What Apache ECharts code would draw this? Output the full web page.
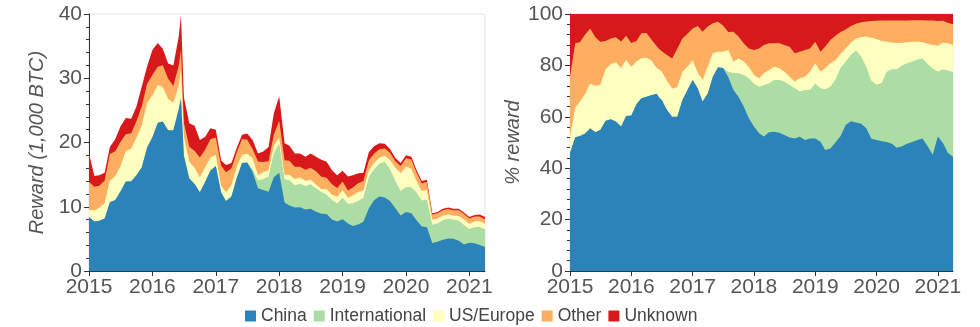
<!DOCTYPE html>
<html>
<head>
<meta charset="utf-8">
<script src="https://cdn.jsdelivr.net/npm/echarts@6/dist/echarts.min.js"></script>
<style>
  html, body { margin: 0; padding: 0; background: #fff; }
  #chart { width: 980px; height: 327px; }
</style>
</head>
<body>
<div id="chart"></div>
<script>
// Observation dates (monthly, plus the mid-June 2016 spike)
const dates = [
  '2015-01-01','2015-02-01','2015-03-01','2015-04-01','2015-05-01','2015-06-01','2015-07-01','2015-08-01','2015-09-01','2015-10-01','2015-11-01','2015-12-01',
  '2016-01-01','2016-02-01','2016-03-01','2016-04-01','2016-05-01','2016-06-01','2016-06-14','2016-07-01','2016-08-01','2016-09-01','2016-10-01','2016-11-01','2016-12-01',
  '2017-01-01','2017-02-01','2017-03-01','2017-04-01','2017-05-01','2017-06-01','2017-07-01','2017-08-01','2017-09-01','2017-10-01','2017-11-01','2017-12-01',
  '2018-01-01','2018-02-01','2018-03-01','2018-04-01','2018-05-01','2018-06-01','2018-07-01','2018-08-01','2018-09-01','2018-10-01','2018-11-01','2018-12-01',
  '2019-01-01','2019-02-01','2019-03-01','2019-04-01','2019-05-01','2019-06-01','2019-07-01','2019-08-01','2019-09-01','2019-10-01','2019-11-01','2019-12-01',
  '2020-01-01','2020-02-01','2020-03-01','2020-04-01','2020-05-01','2020-06-01','2020-07-01','2020-08-01','2020-09-01','2020-10-01','2020-11-01','2020-12-01',
  '2021-01-01','2021-02-01','2021-03-01','2021-04-01'
];

// Total mining reward, thousands of BTC
const totalReward = [
  18.3,14.8,14.9,15.3,19.3,20.5,22.5,23.8,23.7,25.6,28.7,31.8,
  34.4,35.5,34.6,32.3,32.0,36.5,39.8,27.0,23.0,22.6,20.4,20.9,22.2,
  22.0,17.2,16.5,16.8,19.1,21.2,21.4,20.4,18.3,18.6,19.3,24.5,
  27.2,19.9,19.5,18.3,18.3,17.8,18.3,17.8,17.3,17.0,15.7,14.9,
  15.6,14.7,14.9,15.2,15.3,18.5,19.4,19.9,19.8,19.0,17.6,16.8,
  18.0,17.8,15.8,14.0,14.2,9.0,9.2,9.7,9.9,9.7,9.7,9.1,
  8.4,8.7,8.8,8.4
];

// Share of the reward by miner location, percent
const chinaShare = [
  46,52,52.5,53.5,55.5,54,55,58.5,59,58.2,56.2,60.3,
  60.5,65,67.2,67.8,68.5,69,67.6,66.5,62.6,60,60,66.5,70.4,
  74.3,71,66,69.1,75.6,79.3,79,75.5,70.4,67.8,64,59.5,
  56.2,53.6,52.3,54,54.2,53.8,52.9,51.9,51.6,52.2,51,51.6,
  51.6,50.3,47.1,47.7,50,52.5,56.8,58.3,57.8,57.3,55.5,51.5,
  51,50.5,50.2,49.5,48,48.5,49.5,50.2,51,51.6,48.5,45.2,
  52.3,49.7,46,44.5
];
const internationalShare = [
  0,0,0,0,0,0,0,0,0,0,0,0,
  0,0,0,0,0,0,0,0,0,0,0,0,0,
  0,0,0,0,0,0,0,2,6.6,9.1,12.3,15.5,
  16.8,18.1,20.1,19,20.1,20.5,20.8,20.5,19.5,17.6,19.4,18.8,
  21.4,20.8,23.6,24,24.5,26.5,24.7,25.7,28,26.2,24,22.5,
  21.6,22.7,27.3,29,30.5,31.5,31.3,31.3,31.3,31.1,32,33.6,
  25.3,28.8,32,32.9
];
const usEuropeShare = [
  6,11.5,13.5,15.5,17.5,18,17.5,20,21.5,23,22.8,21.9,
  19,16.5,15.6,15.2,13.3,10,10.9,11,11.4,11,11.5,11,9.1,
  7.7,6,8.3,10.4,9.1,6,6.3,8.5,4.5,5.8,5.2,4.5,
  3.3,3.3,4.5,5.2,5.2,4.6,3.9,3.2,2.6,5.2,5.2,7.2,
  7.8,6.5,8.2,9.1,7.5,5.5,5.1,4.8,4.7,7.5,11.7,16.8,
  17.7,16.3,11.7,10.4,10.2,8.8,8.2,7.7,6.9,6.3,7.9,9.1,
  10,10.3,10.6,10.5
];
const otherShare = [
  23.6,25.1,23,23,21.4,19,16.7,11,10,9.8,10.3,9.3,
  9.2,8,9.7,9.6,8.2,8.5,8,8,10,11.7,15,13,12.8,
  12.4,18.3,18.8,15.6,11.7,11.7,10.2,7,11.6,8.5,7.1,7.1,
  9.7,11.6,11,10.4,9.1,9.7,10.3,11.7,11,10.3,10.4,9,
  8.4,7.7,8.4,9.1,9.5,8.5,7.4,6.5,5.7,5.8,5.9,6.5,
  7.1,8,8.3,8.6,8.8,8.7,8.5,8.4,8.4,8.6,9.1,9.6,
  9.7,8.6,8,8.1
];
const unknownShare = [
  24.4,11.4,11,8,5.6,9,10.8,10.5,9.5,9,10.7,8.5,
  11.3,10.5,7.5,7.4,10,12.5,13.5,14.5,16,17.3,13.5,9.5,7.7,
  5.6,4.7,6.9,4.9,3.6,3,4.5,7,6.9,8.8,11.4,13.4,
  14,13.4,12.1,11.4,11.4,11.4,12.1,12.7,15.3,14.7,14,13.4,
  10.8,14.7,12.7,10.1,8.5,7,6,4.7,3.8,3.2,2.9,2.7,
  2.6,2.5,2.5,2.5,2.5,2.5,2.5,2.4,2.4,2.4,2.5,2.5,
  2.7,2.6,3.4,4
];

const regionNames = ['China', 'International', 'US/Europe', 'Other', 'Unknown'];
const regionShares = [chinaShare, internationalShare, usEuropeShare, otherShare, unknownShare];
const regionColors = ['#2b83ba', '#abdda4', '#ffffbf', '#fdae61', '#d7191c'];
const tickYears = [2015, 2016, 2017, 2018, 2019, 2020, 2021];

// Fractional year of an ISO date
function toYear(iso) {
  const [y, m, d] = iso.split('-').map(Number);
  const start = Date.UTC(y, 0, 1), end = Date.UTC(y + 1, 0, 1);
  return y + (Date.UTC(y, m - 1, d) - start) / (end - start);
}
const xs = dates.map(toYear);
const xMax = toYear('2021-04-01');

const labelColor = '#555';
const axisColor = '#333';
const font = 'Liberation Sans, Arial, sans-serif';

function xAxisFor(gridIndex) {
  return {
    type: 'value', gridIndex, min: 2015, max: xMax,
    axisLine: { show: true, lineStyle: { color: axisColor, width: 1 } },
    axisTick: { show: true, length: 5, customValues: tickYears, lineStyle: { color: axisColor } },
    axisLabel: { customValues: tickYears, color: labelColor, fontSize: 21, fontFamily: font, margin: 6,
                 formatter: v => String(Math.round(v)) },
    splitLine: { show: false }, minorTick: { show: false }
  };
}
function yAxisFor(gridIndex, max, interval, name, nameGap) {
  return {
    type: 'value', gridIndex, min: 0, max, interval,
    name, nameLocation: 'middle', nameGap,
    nameTextStyle: { fontStyle: 'italic', fontSize: 20, color: labelColor, fontFamily: font },
    axisLine: { show: true, lineStyle: { color: axisColor, width: 1 } },
    axisTick: { show: true, length: 5, lineStyle: { color: axisColor } },
    minorTick: { show: true, splitNumber: 5, length: 3, lineStyle: { color: axisColor } },
    axisLabel: { color: labelColor, fontSize: 21, fontFamily: font, margin: 7 },
    splitLine: { show: false }, minorSplitLine: { show: false }
  };
}

// Each band is filled from zero up to the running sum of the regions below it;
// upper bands are drawn first so the lower ones sit in front of them.
function cumulative(valuesByRegion) {
  const running = xs.map(() => 0);
  return valuesByRegion.map(vals => vals.map((v, i) => (running[i] += v)));
}
function areaSeries(k, axisIndex, tops) {
  return {
    name: regionNames[k], type: 'line', symbol: 'none', showSymbol: false,
    xAxisIndex: axisIndex, yAxisIndex: axisIndex, z: 2,
    lineStyle: { width: 0 }, itemStyle: { color: regionColors[k] },
    areaStyle: { color: regionColors[k], opacity: 1, origin: 'start' },
    data: xs.map((x, i) => [x, tops[i]])
  };
}

const rewardByRegion = regionShares.map(share => share.map((s, i) => totalReward[i] * s / 100));
const rewardTops = cumulative(rewardByRegion);
const percentTops = cumulative(regionShares);

const series = [];
for (let k = regionNames.length - 1; k >= 0; k--) {
  series.push(areaSeries(k, 0, rewardTops[k]));
  series.push(areaSeries(k, 1, percentTops[k]));
}

const chart = echarts.init(document.getElementById('chart'), null, { renderer: 'canvas' });
chart.setOption({
  animation: false,
  backgroundColor: '#fff',
  grid: [
    { left: 89, right: 495, top: 14, bottom: 56, show: true, borderColor: '#e4e4e4', borderWidth: 1, backgroundColor: '#fff' },
    { left: 570, right: 27, top: 14, bottom: 56, show: true, borderColor: '#e4e4e4', borderWidth: 1, backgroundColor: '#fff' }
  ],
  xAxis: [xAxisFor(0), xAxisFor(1)],
  yAxis: [
    yAxisFor(0, 40, 10, 'Reward (1,000 BTC)', 42),
    yAxisFor(1, 100, 20, '% reward', 47)
  ],
  legend: {
    data: regionNames, left: 240, top: 302, icon: 'rect',
    itemWidth: 11, itemHeight: 11, itemGap: 7,
    textStyle: { fontSize: 17.5, color: '#444', fontFamily: font },
    selectedMode: false
  },
  series
});
</script>
</body>
</html>
